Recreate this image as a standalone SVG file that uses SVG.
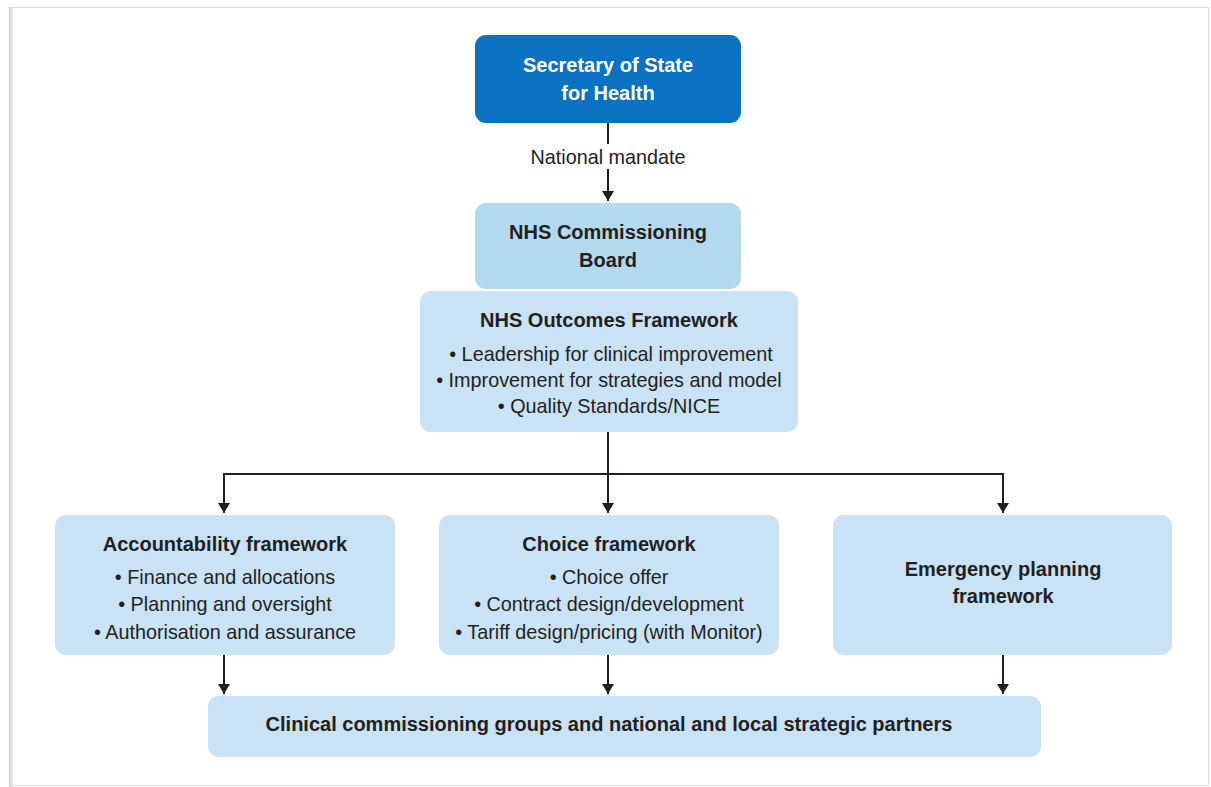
<svg xmlns="http://www.w3.org/2000/svg" width="1211" height="787" viewBox="0 0 1211 787">
  <defs>
    <style>
      .t { font-family: "Liberation Sans", Arial, sans-serif; font-size: 19.8px; fill: #231f20; text-anchor: middle; }
      .b { font-weight: bold; font-size: 20px; }
      .w { fill: #ffffff; }
      .lt { fill: #c9e2f5; }
      .mid { fill: #b3d9ee; }
      .dk { fill: #0a72c1; }
      .c { stroke: #231f20; stroke-width: 2; fill: none; marker-end: url(#ah); }
    </style>
    <marker id="ah" viewBox="0 0 10 12" refX="10" refY="6" markerWidth="10" markerHeight="12" markerUnits="userSpaceOnUse" orient="auto">
      <path d="M0,0 L10,6 L0,12 Z" fill="#231f20"/>
    </marker>
    <linearGradient id="sh" x1="0" x2="1" y1="0" y2="0">
      <stop offset="0" stop-color="#c8c8c8"/>
      <stop offset="1" stop-color="#ffffff"/>
    </linearGradient>
  </defs>

  <!-- page frame -->
  <rect x="0" y="0" width="1211" height="787" fill="#ffffff"/>
  <rect x="9" y="7" width="5" height="780" fill="url(#sh)"/>
  <rect x="10.5" y="7.5" width="1198" height="778" fill="none" stroke="#d9d9d9" stroke-width="1"/>

  <!-- connectors -->
  <g id="connectors">
    <line x1="608" y1="123" x2="608" y2="144" stroke="#231f20" stroke-width="2"/>
    <line class="c" x1="608" y1="169" x2="608" y2="201"/>
    <path stroke="#231f20" stroke-width="2" fill="none" d="M608,432 V474 M224,474 H1003"/>
    <path class="c" d="M224,473 V513"/>
    <path class="c" d="M608,473 V513"/>
    <path class="c" d="M1003,473 V513"/>
    <path class="c" d="M224,655 V694"/>
    <path class="c" d="M608,655 V694"/>
    <path class="c" d="M1003,655 V694"/>
    <text class="t" x="608" y="164">National mandate</text>
  </g>

  <g id="secretary">
    <rect class="dk" x="475" y="35" width="266" height="88" rx="11"/>
    <text class="t b w" x="608" y="72">Secretary of State</text>
    <text class="t b w" x="608" y="100">for Health</text>
  </g>

  <g id="board">
    <rect class="mid" x="475" y="203" width="266" height="86" rx="11"/>
    <text class="t b" x="608" y="239">NHS Commissioning</text>
    <text class="t b" x="608" y="267">Board</text>
  </g>

  <g id="outcomes">
    <rect class="lt" x="420" y="291" width="378" height="141" rx="11"/>
    <text class="t b" x="609" y="327">NHS Outcomes Framework</text>
    <text class="t" x="611" y="361">• Leadership for clinical improvement</text>
    <text class="t" x="609" y="387">• Improvement for strategies and model</text>
    <text class="t" x="609" y="413">• Quality Standards/NICE</text>
  </g>

  <g id="accountability">
    <rect class="lt" x="55" y="515" width="340" height="140" rx="11"/>
    <text class="t b" x="225" y="551">Accountability framework</text>
    <text class="t" x="225" y="584">• Finance and allocations</text>
    <text class="t" x="225" y="611">• Planning and oversight</text>
    <text class="t" x="225" y="639">• Authorisation and assurance</text>
  </g>

  <g id="choice">
    <rect class="lt" x="439" y="515" width="340" height="140" rx="11"/>
    <text class="t b" x="609" y="551">Choice framework</text>
    <text class="t" x="609" y="584">• Choice offer</text>
    <text class="t" x="609" y="611">• Contract design/development</text>
    <text class="t" x="609" y="639">• Tariff design/pricing (with Monitor)</text>
  </g>

  <g id="emergency">
    <rect class="lt" x="833" y="515" width="339" height="140" rx="11"/>
    <text class="t b" x="1003" y="576">Emergency planning</text>
    <text class="t b" x="1003" y="603">framework</text>
  </g>

  <g id="partners">
    <rect class="lt" x="208" y="696" width="833" height="61" rx="11"/>
    <text class="t b" x="609" y="731">Clinical commissioning groups and national and local strategic partners</text>
  </g>
</svg>
